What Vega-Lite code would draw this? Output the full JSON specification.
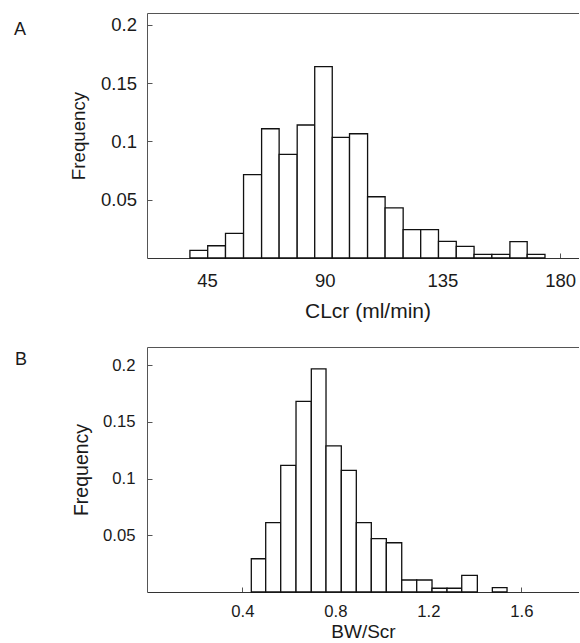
{
  "$schema": "https://vega.github.io/schema/vega-lite/v6.json",
  "background": "white",
  "padding": {"left": 14, "top": 13, "right": 0, "bottom": 0},
  "spacing": 26,
  "config": {
    "view": {"stroke": null},
    "font": "Liberation Sans",
    "axis": {"grid": false, "domainColor": "#555", "tickColor": "#555", "labelColor": "#1a1a1a", "titleColor": "#1a1a1a", "titleFontWeight": "normal", "tickSize": -5}
  },
  "datasets": {
    "clcr": [
      {"start": 38.5, "end": 45.3, "freq": 0.0065},
      {"start": 45.3, "end": 52.1, "freq": 0.0105},
      {"start": 52.1, "end": 59.0, "freq": 0.0211},
      {"start": 59.0, "end": 65.9, "freq": 0.0714},
      {"start": 65.9, "end": 72.6, "freq": 0.1108},
      {"start": 72.6, "end": 79.5, "freq": 0.0888},
      {"start": 79.5, "end": 86.2, "freq": 0.114},
      {"start": 86.2, "end": 92.9, "freq": 0.164},
      {"start": 92.9, "end": 99.5, "freq": 0.1034},
      {"start": 99.5, "end": 106.4, "freq": 0.1065},
      {"start": 106.4, "end": 113.1, "freq": 0.0525},
      {"start": 113.1, "end": 120.0, "freq": 0.0429},
      {"start": 120.0, "end": 126.7, "freq": 0.0243},
      {"start": 126.7, "end": 133.5, "freq": 0.0243},
      {"start": 133.5, "end": 140.3, "freq": 0.0142},
      {"start": 140.3, "end": 147.1, "freq": 0.0099},
      {"start": 147.1, "end": 153.9, "freq": 0.0031},
      {"start": 153.9, "end": 160.8, "freq": 0.0031},
      {"start": 160.8, "end": 167.4, "freq": 0.014},
      {"start": 167.4, "end": 174.2, "freq": 0.0031}
    ],
    "bwscr": [
      {"start": 0.4387, "end": 0.5006, "freq": 0.0293},
      {"start": 0.5006, "end": 0.5652, "freq": 0.0611},
      {"start": 0.5652, "end": 0.631, "freq": 0.1116},
      {"start": 0.631, "end": 0.6968, "freq": 0.168},
      {"start": 0.6968, "end": 0.76, "freq": 0.1967},
      {"start": 0.76, "end": 0.8258, "freq": 0.1289},
      {"start": 0.8258, "end": 0.8903, "freq": 0.1072},
      {"start": 0.8903, "end": 0.9548, "freq": 0.0611},
      {"start": 0.9548, "end": 1.0194, "freq": 0.047},
      {"start": 1.0194, "end": 1.0856, "freq": 0.0434},
      {"start": 1.0856, "end": 1.1501, "freq": 0.0106},
      {"start": 1.1501, "end": 1.2159, "freq": 0.0106},
      {"start": 1.2159, "end": 1.2804, "freq": 0.0033},
      {"start": 1.2804, "end": 1.3437, "freq": 0.0033},
      {"start": 1.3437, "end": 1.4108, "freq": 0.0147},
      {"start": 1.4753, "end": 1.5385, "freq": 0.0038}
    ]
  },
  "vconcat": [
    {
      "width": 432,
      "height": 245,
      "title": {"text": "A", "anchor": "start", "frame": "group", "orient": "top", "offset": 0, "dx": -133, "dy": 40, "baseline": "alphabetic", "fontSize": 18, "fontWeight": "normal", "color": "#1a1a1a"},
      "data": {"name": "clcr"},
      "resolve": {"axis": {"x": "independent"}},
      "layer": [
        {
          "mark": {"type": "bar", "fill": "white", "stroke": "#111", "strokeWidth": 1.3},
          "encoding": {
            "x": {"field": "start", "type": "quantitative", "scale": {"domain": [22.1, 187.2], "nice": false, "zero": false},
              "axis": {"title": "CLcr (ml/min)", "values": [45, 90, 135, 180], "format": "d", "labelPadding": 18.7, "labelFontSize": 18.5, "titleFontSize": 21, "titleY": 59, "titleX": 220.5, "titleBaseline": "alphabetic", "domainColor": "#333"}},
            "x2": {"field": "end"},
            "y": {"field": "freq", "type": "quantitative", "scale": {"domain": [0, 0.21], "nice": false},
              "axis": {"title": "Frequency", "values": [0.05, 0.1, 0.15, 0.2], "format": "~r", "labelPadding": 15.5, "labelFontSize": 18.5, "titleFontSize": 18.7, "titleX": -62.2, "titleY": 122.5, "titleBaseline": "alphabetic"}},
            "y2": {"datum": 0}
          }
        },
        {
          "mark": {"type": "rule", "opacity": 0},
          "encoding": {
            "x": {"field": "start", "type": "quantitative", "axis": {"orient": "top", "title": null, "labels": false, "ticks": false}}
          }
        }
      ]
    },
    {
      "width": 432,
      "height": 245,
      "title": {"text": "B", "anchor": "start", "frame": "group", "orient": "top", "offset": 0, "dx": -132, "dy": 35.5, "baseline": "alphabetic", "fontSize": 18, "fontWeight": "normal", "color": "#1a1a1a"},
      "data": {"name": "bwscr"},
      "resolve": {"axis": {"x": "independent"}},
      "layer": [
        {
          "mark": {"type": "bar", "fill": "white", "stroke": "#111", "strokeWidth": 1.3},
          "encoding": {
            "x": {"field": "start", "type": "quantitative", "scale": {"domain": [-0.0099, 1.848], "nice": false, "zero": false},
              "axis": {"title": "BW/Scr", "values": [0.4, 0.8, 1.2, 1.6], "format": "~r", "labelPadding": 16.5, "labelFontSize": 16.7, "titleFontSize": 19, "titleY": 45, "titleBaseline": "alphabetic", "domainColor": "#333"}},
            "x2": {"field": "end"},
            "y": {"field": "freq", "type": "quantitative", "scale": {"domain": [0, 0.216], "nice": false},
              "axis": {"title": "Frequency", "values": [0.05, 0.1, 0.15, 0.2], "format": "~r", "labelPadding": 17, "labelFontSize": 16.7, "titleFontSize": 19.5, "titleX": -59.3, "titleY": 122.5, "titleBaseline": "alphabetic"}},
            "y2": {"datum": 0}
          }
        },
        {
          "mark": {"type": "rule", "opacity": 0},
          "encoding": {
            "x": {"field": "start", "type": "quantitative", "axis": {"orient": "top", "title": null, "labels": false, "ticks": false}}
          }
        }
      ]
    }
  ]
}
